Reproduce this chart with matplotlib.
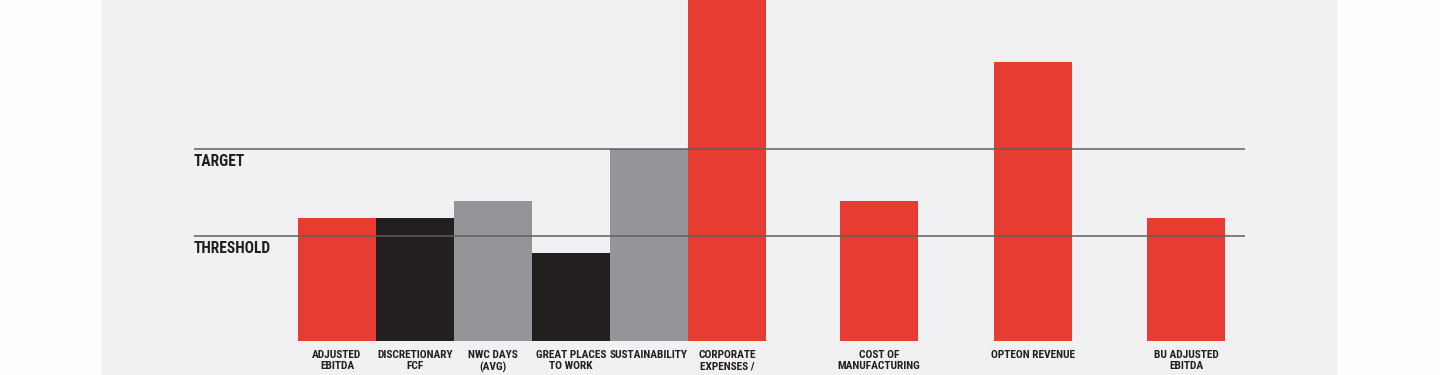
import matplotlib
matplotlib.use("Agg")
import matplotlib.pyplot as plt
from matplotlib import font_manager

categories = ["ADJUSTED\nEBITDA", "DISCRETIONARY\nFCF", "NWC DAYS\n(AVG)", "GREAT PLACES\nTO WORK",
              "SUSTAINABILITY", "CORPORATE\nEXPENSES /", "COST OF\nMANUFACTURING",
              "OPTEON REVENUE", "BU ADJUSTED\nEBITDA"]
values = [64.1, 64.1, 72.9, 45.8, 100.0, 190.0, 72.9, 145.3, 64.1]
kinds = ["red", "black", "gray", "black", "gray", "red", "red", "red", "red"]
target = 100.0
threshold = 54.7

colors = {"red": "#e63c31", "black": "#231f20", "gray": "#939598"}
text_color = "#231f20"
names = {f.name for f in font_manager.fontManager.ttflist}
font = [n for n in ["Liberation Sans Narrow", "Roboto Condensed", "Open Sans Condensed"] if n in names] + ["DejaVu Sans"]

gaps = [0, 0, 0, 0, 0, 0, 0.95, 0.97, 0.97]
xs = []
pos = 0.0
for i, g in enumerate(gaps):
    if i > 0:
        pos += 1 + g
    xs.append(pos)

W, H = 1440, 375
fig = plt.figure(figsize=(W / 100, H / 100), dpi=100)
fig.patch.set_facecolor("#fdfdfd")
bg = fig.add_axes([102 / W, 0, (1337 - 102) / W, 1], zorder=-5)
bg.set_facecolor("#f1f1f3")
bg.set_xticks([]); bg.set_yticks([])
for s in bg.spines.values():
    s.set_visible(False)

left, right = 194, 1245
base = 341
ax = fig.add_axes([left / W, (H - base) / H, (right - left) / W, base / H])
ax.patch.set_alpha(0)
ax.set_xlim(-1.833, 11.641)
ax.set_ylim(0, base / 1.92)

ax.bar(xs, values, width=1.0, color=[colors[k] for k in kinds], zorder=2, linewidth=0)
ax.axhline(target, color="#5e5f61", lw=1.1, zorder=3)
ax.axhline(threshold, color="#5e5f61", lw=1.1, zorder=3)

ax.text(-1.833, target - 2.4, "TARGET", ha="left", va="top", fontsize=11.2, fontweight="bold",
        color=text_color, family=font)
ax.text(-1.833, threshold - 2.4, "THRESHOLD", ha="left", va="top", fontsize=11.2, fontweight="bold",
        color=text_color, family=font)

ax.set_xticks(xs)
ax.set_xticklabels(categories, fontsize=8.2, fontweight="bold", color=text_color, family=font,
                   linespacing=1.1)
ax.tick_params(axis="x", length=0, pad=6.8)
ax.set_yticks([])
for s in ax.spines.values():
    s.set_visible(False)

fig.savefig("out.png", dpi=100, facecolor=fig.get_facecolor())
